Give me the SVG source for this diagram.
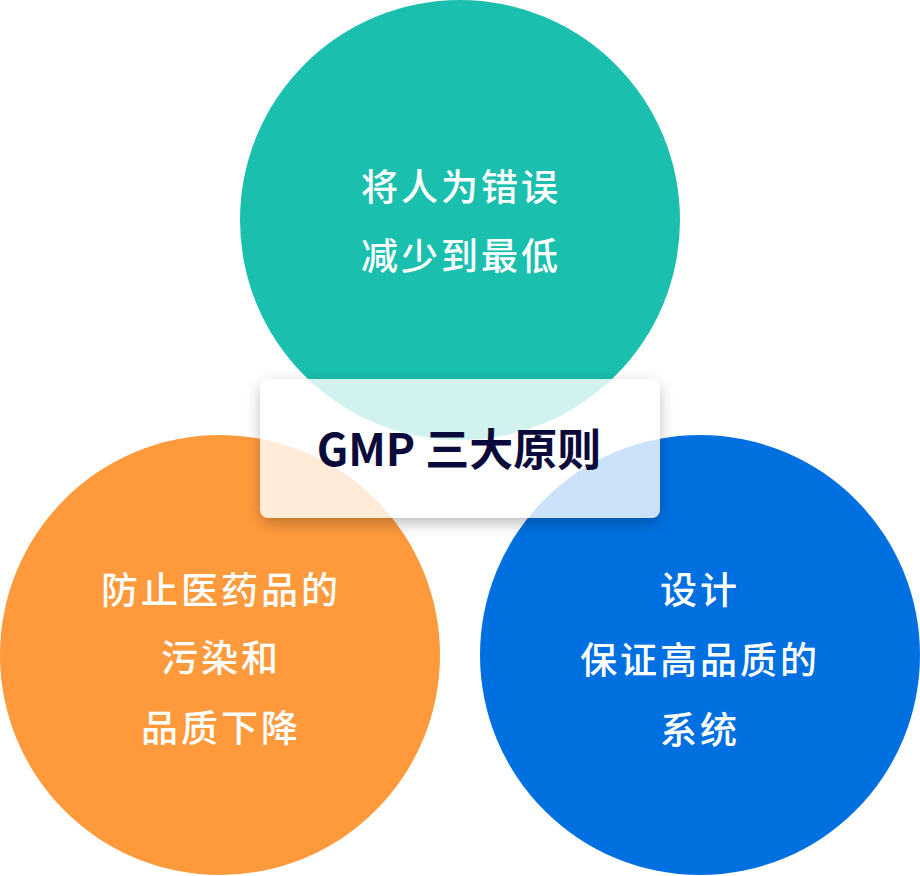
<svg xmlns="http://www.w3.org/2000/svg" width="920" height="876" viewBox="0 0 920 876">
<defs>
<filter id="sh" x="-20%" y="-30%" width="140%" height="170%">
<feGaussianBlur stdDeviation="8"/>
</filter>
<mask id="outside">
<rect width="920" height="876" fill="#fff"/>
<rect x="260" y="379" width="400" height="139" rx="8" fill="#000"/>
</mask>
<style>
.lbl{font-family:"Noto Sans CJK SC","Noto Sans",sans-serif;font-size:37px;font-weight:500;fill:#fff;text-anchor:middle;letter-spacing:3px}
.title{font-family:"Noto Sans CJK SC","Noto Sans",sans-serif;font-size:44px;font-weight:700;fill:#0b0b3b;text-anchor:middle}
</style>
</defs>
<g id="top">
<circle cx="460" cy="220" r="220" fill="#1abfae"/>
<text class="lbl" x="461" y="201">将人为错误</text>
<text class="lbl" x="461" y="270">减少到最低</text>
</g>
<g id="left">
<circle cx="220" cy="655" r="220" fill="#ff9a3c"/>
<text class="lbl" x="221" y="604">防止医药品的</text>
<text class="lbl" x="221" y="672">污染和</text>
<text class="lbl" x="221" y="742">品质下降</text>
</g>
<g id="right">
<circle cx="700" cy="655" r="220" fill="#0070e0"/>
<text class="lbl" x="700" y="604">设计</text>
<text class="lbl" x="700" y="674">保证高品质的</text>
<text class="lbl" x="700" y="744">系统</text>
</g>
<g id="center">
<g mask="url(#outside)">
<rect x="262" y="385" width="396" height="137" rx="8" fill="#000" fill-opacity="0.3" filter="url(#sh)"/>
</g>
<rect x="260" y="379" width="400" height="139" rx="8" fill="#fff" fill-opacity="0.8"/>
<text class="title" x="459" y="466">GMP 三大原则</text>
</g>
<g id="connectors"/>
</svg>
